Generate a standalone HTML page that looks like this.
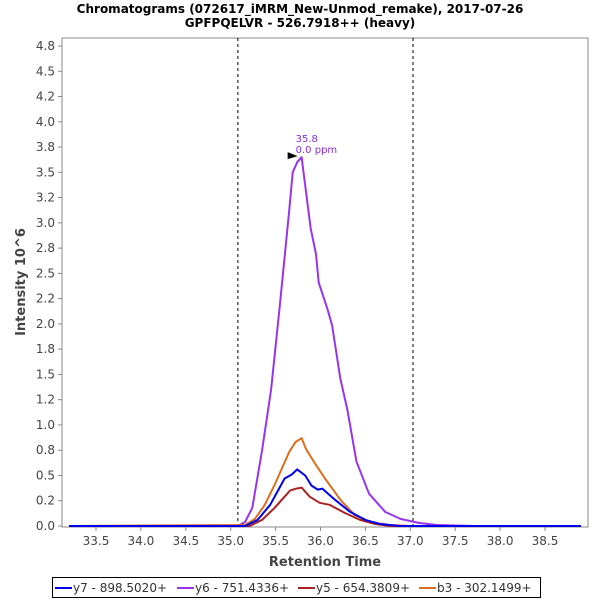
<!DOCTYPE html>
<html><head><meta charset="utf-8"><style>
body{margin:0;background:#fff;}
svg text{font-family:"DejaVu Sans","Liberation Sans",sans-serif;}
</style></head><body>
<svg width="600" height="600" xmlns="http://www.w3.org/2000/svg">
<text x="300" y="13" text-anchor="middle" font-size="12" font-weight="bold">Chromatograms (072617_iMRM_New-Unmod_remake), 2017-07-26</text>
<text x="300" y="27" text-anchor="middle" font-size="12" font-weight="bold">GPFPQELVR - 526.7918++ (heavy)</text>
<rect x="62" y="38" width="526" height="489" fill="#fff" stroke="#888"/>
<g id="yticks"></g><g id="xticks"></g><g id="marks"></g>
<text transform="translate(25,282) rotate(-90)" text-anchor="middle" font-size="13" font-weight="bold" fill="#444">Intensity 10^6</text>
<text x="325" y="566" text-anchor="middle" font-size="13" font-weight="bold" fill="#444">Retention Time</text>
<g>
<rect x="52.5" y="577.5" width="488" height="20" fill="#fff" stroke="#000"/>
<line x1="55" y1="588" x2="72" y2="588" stroke="#0000ee" stroke-width="2"/><text x="73" y="592" font-size="12" fill="#333">y7 - 898.5020+</text>
<line x1="177" y1="588" x2="194" y2="588" stroke="#9933ee" stroke-width="2"/><text x="195" y="592" font-size="12" fill="#333">y6 - 751.4336+</text>
<line x1="298" y1="588" x2="315" y2="588" stroke="#aa2222" stroke-width="2"/><text x="316" y="592" font-size="12" fill="#333">y5 - 654.3809+</text>
<line x1="419" y1="588" x2="436" y2="588" stroke="#dd6e1e" stroke-width="2"/><text x="437" y="592" font-size="12" fill="#333">b3 - 302.1499+</text>
</g>
</svg>
<script>
const yTicks=[0,0.25,0.5,0.75,1.0,1.25,1.5,1.75,2.0,2.25,2.5,2.75,3.0,3.25,3.5,3.75,4.0,4.25,4.5,4.75];
const yTickLabels=['0.0','0.2','0.5','0.8','1.0','1.2','1.5','1.8','2.0','2.2','2.5','2.8','3.0','3.2','3.5','3.8','4.0','4.2','4.5','4.8'];
const xTicks=[33.5,34.0,34.5,35.0,35.5,36.0,36.5,37.0,37.5,38.0,38.5];
const integrationBounds=[35.08,37.03];
const tY7=[33.2,35.16,35.3,35.44,35.6,35.68,35.74,35.83,35.9,35.97,36.02,36.16,36.33,36.5,36.66,36.89,38.9];
const vY7=[0,0,0.06,0.21,0.47,0.51,0.56,0.50,0.40,0.36,0.37,0.26,0.14,0.06,0.02,0,0];
const tY6=[33.2,35.08,35.16,35.24,35.35,35.45,35.55,35.65,35.69,35.74,35.79,35.89,35.95,35.98,36.08,36.13,36.22,36.30,36.40,36.54,36.72,36.89,37.1,37.3,37.7,38.9];
const vY6=[0,0,0.04,0.18,0.75,1.35,2.21,3.11,3.50,3.60,3.65,2.95,2.69,2.41,2.14,1.98,1.46,1.15,0.64,0.32,0.14,0.07,0.03,0.01,0,0];
const tY5=[33.2,35.21,35.35,35.49,35.66,35.73,35.79,35.88,35.99,36.1,36.27,36.44,36.61,36.78,38.9];
const vY5=[0,0,0.06,0.18,0.35,0.37,0.38,0.29,0.23,0.21,0.13,0.06,0.02,0,0];
const tB3=[33.2,35.16,35.27,35.38,35.49,35.65,35.72,35.79,35.84,35.93,36.05,36.22,36.38,36.55,36.77,37.0,38.9];
const vB3=[0,0.01,0.07,0.21,0.41,0.73,0.83,0.87,0.76,0.63,0.47,0.26,0.11,0.04,0.01,0,0];
const peakLabel=[35.79,3.65];
const NS='http://www.w3.org/2000/svg';
const X=t=>96+(t-33.5)*89.8;
const Y=v=>526-v*101.05;
function mk(tag,attrs,parent){const e=document.createElementNS(NS,tag);for(const k in attrs)e.setAttribute(k,attrs[k]);document.getElementById(parent).appendChild(e);return e;}
yTicks.forEach((v,i)=>{const y=Y(v);
 const l=mk('line',{x1:58,x2:62,y1:y,y2:y,stroke:'#888'},'yticks');
 
 
 const t=mk('text',{x:55,y:y+4,'text-anchor':'end','font-size':12,fill:'#444'},'yticks');t.textContent=yTickLabels[i];
 
 });
xTicks.forEach(v=>{const x=X(v);
 const l=mk('line',{x1:x,x2:x,y1:527,y2:531,stroke:'#888'},'xticks');
 
 
 const t=mk('text',{x:x,y:545,'text-anchor':'middle','font-size':12,fill:'#444'},'xticks');t.textContent=v.toFixed(1);
 
 });
integrationBounds.forEach(b=>{const l=mk('line',{x1:X(b),x2:X(b),y1:38,y2:527,stroke:'#000','stroke-dasharray':'3,3'},'marks');
 
 });
function series(ts,vs,color,name){const d=ts.map((t,i)=>(i?'L':'M')+X(t).toFixed(1)+','+Y(vs[i]).toFixed(1)).join('');
 const p=mk('path',{d:d,fill:'none',stroke:color,'stroke-width':2,'stroke-linejoin':'round'},'marks');
 
 }
series(tY6,vY6,'#9933ee','series-y6');
series(tB3,vB3,'#dd6e1e','series-b3');
series(tY5,vY5,'#aa2222','series-y5');
series(tY7,vY7,'#0000ee','series-y7');
const px=X(peakLabel[0]),py=Y(peakLabel[1]);
const tri=mk('polygon',{points:`${px-14},${py-5} ${px-4},${py-1} ${px-14},${py+2}`,fill:'#000'},'marks');


const a1=mk('text',{x:px-6,y:py-15,'font-size':10,fill:'#8a2be2'},'marks');a1.textContent=peakLabel[0].toFixed(1);


const a2=mk('text',{x:px-6,y:py-4,'font-size':10,fill:'#8a2be2'},'marks');a2.textContent='0.0 ppm';


</script>
</body></html>
